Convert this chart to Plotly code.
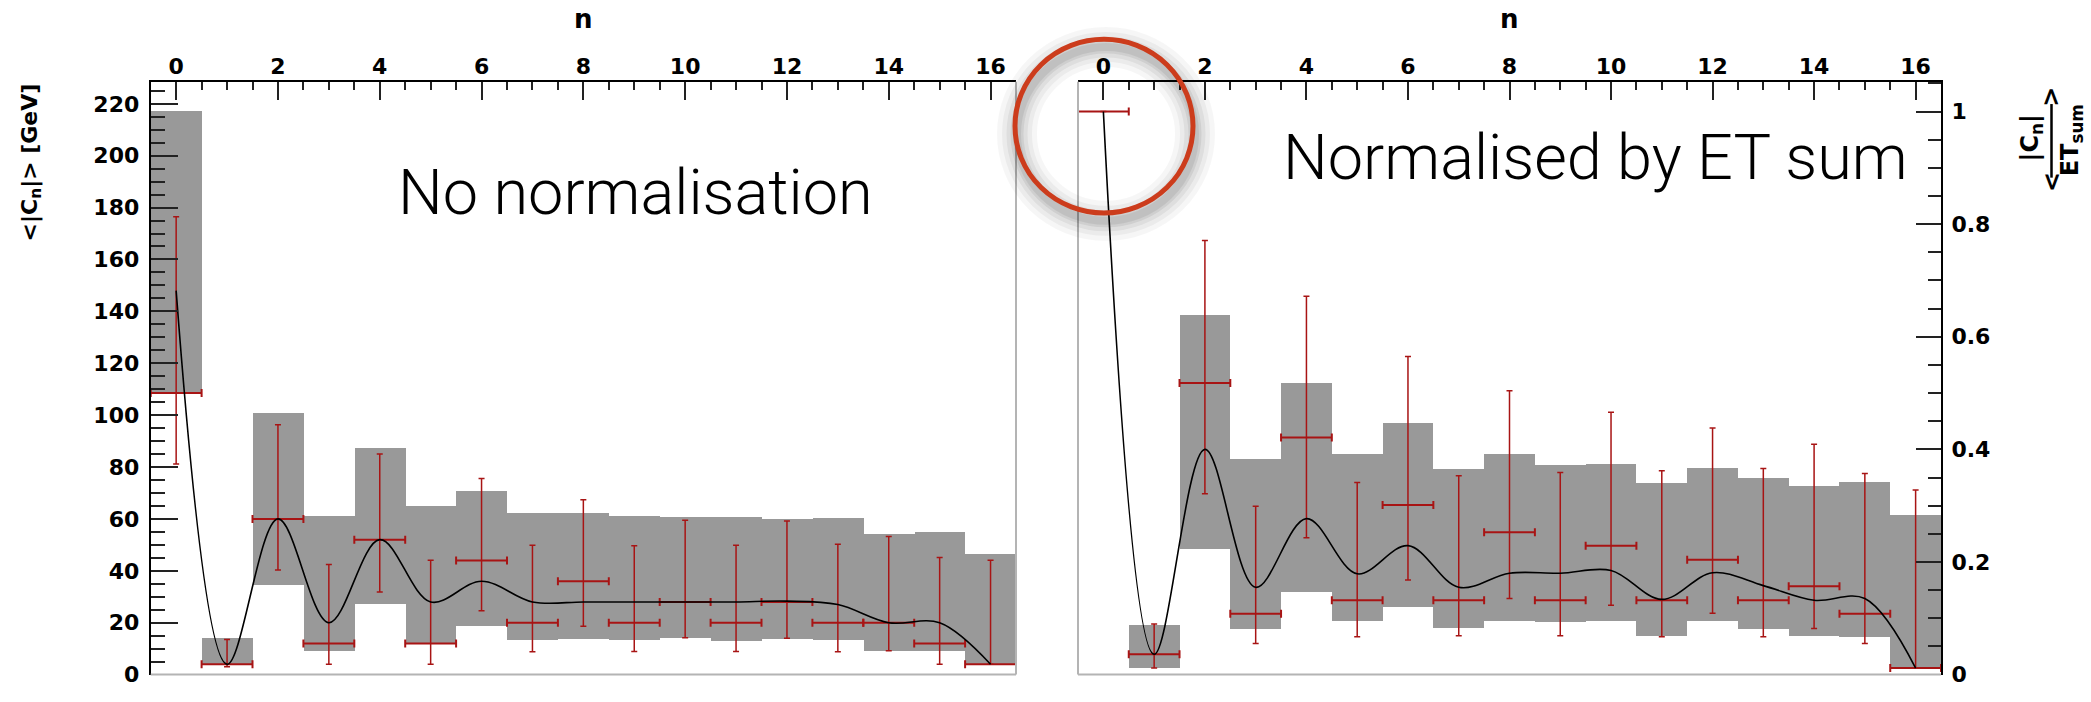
import plotly.graph_objects as go

# Harmonic index n (bins of unit width, centred on integers)
n = list(range(17))

# ---- Left panel: <|C_n|> in GeV, no normalisation ----
band_lo_gev = [108.5, 4.0, 34.5, 9.0, 27.3, 12.0, 18.8, 13.5, 13.8, 13.5, 14.3, 13.1, 13.9, 13.4, 9.3, 9.0, 4.0]
band_hi_gev = [217.5, 14.1, 101.1, 61.4, 87.5, 65.2, 70.8, 62.5, 62.5, 61.4, 61.0, 61.0, 60.1, 60.5, 54.2, 55.2, 46.6]
point_gev = [108.5, 4, 60, 12, 52, 12, 44, 20, 36, 20, 28, 20, 28, 20, 20, 12, 4]
err_hi_gev = [176.5, 13.5, 96.3, 42.4, 85.0, 44.1, 75.6, 49.8, 67.4, 49.7, 59.5, 49.8, 59.2, 50.2, 53.2, 45.1, 44.1]
err_lo_gev = [81.2, 3.0, 40.3, 4.0, 31.8, 4.0, 24.6, 8.8, 18.6, 8.9, 14.2, 8.9, 14.0, 8.8, 9.2, 4.0, 4.0]
curve_gev = [148, 4, 60, 20, 52, 28, 36, 28, 28, 28, 28, 28, 28.3, 27, 20, 20, 4]

# ---- Right panel: <|C_n| / ET_sum> ----
band_lo_norm = [1.0, 0.0115, 0.223, 0.081, 0.147, 0.095, 0.121, 0.083, 0.095, 0.093, 0.096, 0.069, 0.095, 0.081, 0.069, 0.067, 0.012]
band_hi_norm = [1.0, 0.088, 0.640, 0.384, 0.518, 0.392, 0.448, 0.366, 0.392, 0.373, 0.375, 0.340, 0.368, 0.349, 0.335, 0.342, 0.283]
point_norm = [1.0, 0.036, 0.518, 0.108, 0.421, 0.132, 0.301, 0.132, 0.253, 0.132, 0.229, 0.132, 0.204, 0.132, 0.157, 0.108, 0.0115]
err_hi_norm = [1.0, 0.090, 0.771, 0.299, 0.672, 0.341, 0.565, 0.353, 0.504, 0.359, 0.466, 0.362, 0.438, 0.366, 0.409, 0.357, 0.328]
err_lo_norm = [1.0, 0.0115, 0.321, 0.055, 0.243, 0.067, 0.168, 0.069, 0.135, 0.069, 0.123, 0.067, 0.109, 0.067, 0.082, 0.055, 0.0115]
curve_norm = [1.0, 0.036, 0.40, 0.155, 0.277, 0.179, 0.229, 0.155, 0.18, 0.18, 0.185, 0.1335, 0.181, 0.158, 0.132, 0.135, 0.0115]

W, H = 2091, 702
GRAY = "#999999"
RED = "#a81414"
FRAME_GRAY = "#b4b4b4"
AXIS_FAMILY = "DejaVu Sans, Liberation Sans, sans-serif"
TICK_FONT = dict(family=AXIS_FAMILY, size=22, color="black", weight="bold")


def px(x):
    return x / W


def py(y):
    return 1 - y / H


def panel_traces(lo, hi, pt, ehi, elo, curve, xa, ya):
    band = go.Bar(
        x=n, base=lo, y=[h - l for h, l in zip(hi, lo)], width=1.0,
        marker=dict(color=GRAY, line=dict(width=0)),
        xaxis=xa, yaxis=ya, showlegend=False, hoverinfo="skip",
    )
    pts = go.Scatter(
        x=n, y=pt, mode="markers",
        marker=dict(size=1, color=RED),
        error_x=dict(type="constant", value=0.5, color=RED, thickness=2, width=4),
        error_y=dict(type="data", symmetric=False,
                     array=[h - p for h, p in zip(ehi, pt)],
                     arrayminus=[p - l for p, l in zip(pt, elo)],
                     color=RED, thickness=1.5, width=3),
        xaxis=xa, yaxis=ya, showlegend=False,
    )
    line = go.Scatter(
        x=n, y=curve, mode="lines",
        line=dict(color="black", width=1.6, shape="spline", smoothing=1.0),
        xaxis=xa, yaxis=ya, showlegend=False,
    )
    return [band, pts, line]


fig = go.Figure()
for tr in panel_traces(band_lo_gev, band_hi_gev, point_gev, err_hi_gev, err_lo_gev, curve_gev, "x", "y"):
    fig.add_trace(tr)
for tr in panel_traces(band_lo_norm, band_hi_norm, point_norm, err_hi_norm, err_lo_norm, curve_norm, "x2", "y2"):
    fig.add_trace(tr)

y_dom = [py(687.3), py(83.3)]
xaxis_common = dict(
    range=[-0.5, 16.5], side="top", showline=True, linecolor="black", linewidth=2,
    ticks="inside", ticklen=18, tickwidth=2, tickcolor="#222", tick0=0, dtick=2,
    minor=dict(ticks="inside", ticklen=8, tickwidth=1.5, tickcolor="#222", dtick=0.5),
    showgrid=False, zeroline=False, tickfont=TICK_FONT, ticklabelstandoff=-3,
)

fig.update_layout(
    width=W, height=H, margin=dict(l=0, r=0, t=0, b=0),
    paper_bgcolor="white", plot_bgcolor="white", barmode="overlay", bargap=0,
    xaxis=dict(domain=[px(150.7), px(1016)], anchor="y", **xaxis_common),
    xaxis2=dict(domain=[px(1078), px(1941)], anchor="y2", **xaxis_common),
    yaxis=dict(
        domain=y_dom, anchor="x", range=[0, 228.5], side="left",
        showline=True, linecolor="black", linewidth=2,
        ticks="inside", ticklen=27, tickwidth=2, tickcolor="#222", tick0=0, dtick=20,
        minor=dict(ticks="inside", ticklen=14, tickwidth=1.5, tickcolor="#222", dtick=5),
        showgrid=False, zeroline=False, tickfont=TICK_FONT, ticklabelstandoff=5,
    ),
    yaxis2=dict(
        domain=y_dom, anchor="x2", range=[0, 1.053], side="right",
        showline=True, linecolor="black", linewidth=2,
        ticks="inside", ticklen=25, tickwidth=2, tickcolor="#222", tick0=0, dtick=0.2,
        minor=dict(ticks="inside", ticklen=13, tickwidth=1.5, tickcolor="#222", dtick=0.05),
        showgrid=False, zeroline=False, tickfont=TICK_FONT, ticklabelstandoff=4,
    ),
)

shapes = []
# light frame on the open sides of each panel
for xr, yr, side in [("x domain", "y domain", "left"), ("x2 domain", "y2 domain", "right")]:
    shapes.append(dict(type="line", xref=xr, yref=yr, x0=0, x1=1, y0=0, y1=0,
                       line=dict(color=FRAME_GRAY, width=2), layer="above"))
    xe = 1 if side == "left" else 0
    shapes.append(dict(type="line", xref=xr, yref=yr, x0=xe, x1=xe, y0=0, y1=1,
                       line=dict(color=FRAME_GRAY, width=2), layer="above"))

# highlight ring around the n = 0 point of the normalised panel, with a soft shadow
cx0, cx1, cy0, cy1 = 1015, 1193, 40, 217
for w, a in [(40, 0.035), (30, 0.045), (21, 0.055), (13, 0.065), (8, 0.07)]:
    shapes.append(dict(type="circle", xref="paper", yref="paper",
                       x0=px(cx0 + 2), x1=px(cx1 + 2), y0=py(cy1 + 8), y1=py(cy0 + 8),
                       line=dict(color=f"rgba(0,0,0,{a})", width=w), layer="above"))
shapes.append(dict(type="circle", xref="paper", yref="paper",
                   x0=px(cx0), x1=px(cx1), y0=py(cy1), y1=py(cy0),
                   line=dict(color="#cc3c1c", width=5), layer="above"))

# fraction bar of the right-hand axis title
shapes.append(dict(type="line", xref="paper", yref="paper",
                   x0=px(2051.5), x1=px(2051.5), y0=py(181), y1=py(106),
                   line=dict(color="black", width=2.5)))
fig.update_layout(shapes=shapes)

TITLE_FONT = dict(family=AXIS_FAMILY, size=22, color="black", weight="bold")
FRAC_FONT = dict(family=AXIS_FAMILY, size=24, color="black", weight="bold")
LABEL_FONT = dict(family="Roboto, Liberation Sans, sans-serif", size=63, color="black", weight=300)

annotations = [
    dict(text="n", x=px(583), y=py(19), xref="paper", yref="paper", showarrow=False,
         font=dict(TITLE_FONT, size=26), xanchor="center", yanchor="middle"),
    dict(text="n", x=px(1509.5), y=py(19), xref="paper", yref="paper", showarrow=False,
         font=dict(TITLE_FONT, size=26), xanchor="center", yanchor="middle"),
    dict(text="<|C<sub>n</sub>|> [GeV]", x=px(31), y=py(83), xref="paper", yref="paper",
         showarrow=False, textangle=-90, font=TITLE_FONT, xanchor="center", yanchor="top"),
    dict(text="|C<sub>n</sub>|", x=px(2031), y=py(141), xref="paper", yref="paper",
         showarrow=False, textangle=-90, font=FRAC_FONT, xanchor="center", yanchor="middle"),
    dict(text="ET<sub>sum</sub>", x=px(2071), y=py(143), xref="paper", yref="paper",
         showarrow=False, textangle=-90, font=FRAC_FONT, xanchor="center", yanchor="middle"),
    dict(text="<", x=px(2051.5), y=py(186), xref="paper", yref="paper",
         showarrow=False, textangle=-90, font=FRAC_FONT, xanchor="center", yanchor="middle"),
    dict(text=">", x=px(2051.5), y=py(99), xref="paper", yref="paper",
         showarrow=False, textangle=-90, font=FRAC_FONT, xanchor="center", yanchor="middle"),
    dict(text="No normalisation", x=px(635.5), y=py(196), xref="paper", yref="paper",
         showarrow=False, font=LABEL_FONT, xanchor="center", yanchor="middle"),
    dict(text="Normalised by ET sum", x=px(1595.6), y=py(160), xref="paper", yref="paper",
         showarrow=False, font=LABEL_FONT, xanchor="center", yanchor="middle"),
]
fig.update_layout(annotations=annotations)

fig.write_html("out.html")
